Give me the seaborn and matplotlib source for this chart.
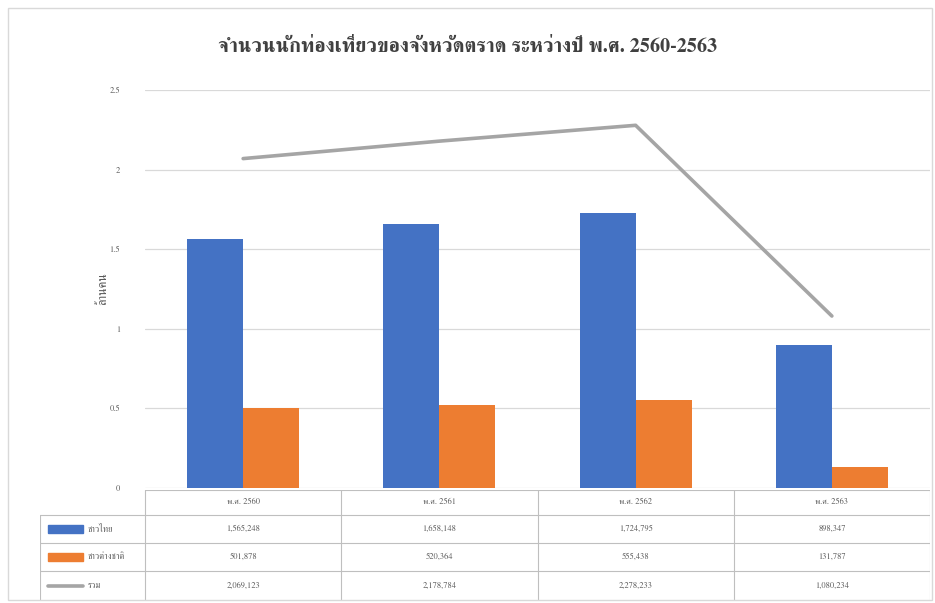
import numpy as np
import pandas as pd
import matplotlib
matplotlib.use("Agg")
import matplotlib.pyplot as plt
import seaborn as sns
from matplotlib import font_manager as fm
from matplotlib.ft2font import FT2Font
from matplotlib.patches import Rectangle

# ---------------- data ----------------
years = ["พ.ศ. 2560", "พ.ศ. 2561", "พ.ศ. 2562", "พ.ศ. 2563"]
thai = [1565248, 1658148, 1724795, 898347]
foreign = [501878, 520364, 555438, 131787]
total = [2069123, 2178784, 2278233, 1080234]
series_names = ["ชาวไทย", "ชาวต่างชาติ", "รวม"]
y_ticks = [0, 0.5, 1, 1.5, 2, 2.5]
title = "จำนวนนักท่องเที่ยวของจังหวัดตราด ระหว่างปี พ.ศ. 2560-2563"
y_label = "ล้านคน"

BLUE = "#4472C4"
ORANGE = "#ED7D31"
GRAY = "#A5A5A5"
TXT = "#595959"

sns.set_theme(style="white")

# find a font covering Thai
thai_family = None
for f in fm.fontManager.ttflist:
    try:
        ft = FT2Font(f.fname)
        if ft.get_char_index(0x0E01) and ft.get_char_index(0x0E33):
            thai_family = f.name
            if "serif" in f.name.lower() and "sans" not in f.name.lower():
                break
    except Exception:
        pass
fams = ([thai_family] if thai_family else []) + ["DejaVu Sans"]
plt.rcParams["font.family"] = fams

W, H = 935, 603
fig = plt.figure(figsize=(W / 100, H / 100), dpi=100)

def fx(px):
    return px / W

def fy(py):
    return 1 - py / H

# main axes
L, R, T, B = 145, 930, 90, 488
ax = fig.add_axes([fx(L), fy(B), fx(R - L), fy(T) - fy(B)])

df = pd.DataFrame({
    "year": years * 2,
    "group": [series_names[0]] * 4 + [series_names[1]] * 4,
    "value": [v / 1e6 for v in thai] + [v / 1e6 for v in foreign],
})
sns.barplot(data=df, x="year", y="value", hue="group", order=years,
            hue_order=series_names[:2], palette=[BLUE, ORANGE],
            width=0.57, gap=0, ax=ax, legend=False, saturation=1,
            linewidth=0, edgecolor="none")
sns.lineplot(x=np.arange(len(years)), y=[v / 1e6 for v in total], ax=ax,
             color=GRAY, linewidth=2.6, sort=False)

ax.set_xlim(-0.5, 3.5)
ax.set_ylim(0, 2.5)
ax.set_yticks(y_ticks)
ax.set_yticklabels([f"{t:g}" for t in y_ticks], fontsize=6, color=TXT)
ax.set_xticks([])
ax.set_xlabel("")
ax.set_ylabel(y_label, fontsize=9, color=TXT, labelpad=0)
ax.yaxis.grid(True, color="#D9D9D9", linewidth=0.9)
ax.set_axisbelow(True)
for s in ax.spines.values():
    s.set_visible(False)
ax.tick_params(axis="y", length=0, pad=18)

fig.text(0.5, fy(47), title, ha="center", va="center", fontsize=14.5,
         fontweight="bold", color="#404040")

# data table
tL, tR, tT, tB = 40, 930, 490, 600
tax = fig.add_axes([fx(tL), fy(tB), fx(tR - tL), fy(tT) - fy(tB)])
cat_px = (R - L) / 4.0
x0 = -0.5 - (L - tL) / cat_px
tax.set_xlim(x0, 3.5)
rows_px = [490, 515, 543, 571, 600]
tax.set_ylim(tB, tT)
tax.axis("off")
lc = "#BFBFBF"
tax.plot([-0.5, 3.5], [rows_px[0]] * 2, color=lc, lw=0.8)
for yy in rows_px[1:4]:
    tax.plot([x0, 3.5], [yy, yy], color=lc, lw=0.8)
for xx in [-0.5, 0.5, 1.5, 2.5, 3.5]:
    tax.plot([xx, xx], [rows_px[0], tB], color=lc, lw=0.8)
tax.plot([x0, x0], [rows_px[1], tB], color=lc, lw=0.8)

for i, yr in enumerate(years):
    tax.text(i, (rows_px[0] + rows_px[1]) / 2, yr, ha="center", va="center",
             fontsize=6, color=TXT)
for r, vals in enumerate([thai, foreign, total]):
    yc = (rows_px[r + 1] + rows_px[r + 2]) / 2
    for i, v in enumerate(vals):
        tax.text(i, yc, f"{v:,}", ha="center", va="center", fontsize=6, color=TXT)

# legend keys in row labels
key_x0 = x0 + 8 / cat_px
key_w = 35 / cat_px
for r, (name, col) in enumerate(zip(series_names, [BLUE, ORANGE, GRAY])):
    yc = (rows_px[r + 1] + rows_px[r + 2]) / 2
    if r < 2:
        tax.add_patch(Rectangle((key_x0, yc - 4), key_w, 8, color=col))
    else:
        tax.plot([key_x0, key_x0 + key_w], [yc, yc], color=col, lw=2.6)
    tax.text(key_x0 + key_w + 5 / cat_px, yc, name, ha="left", va="center",
             fontsize=6.5, color=TXT)

# outer border
fig.patches.append(Rectangle((fx(8), fy(600)), fx(924), fy(8) - fy(600),
                             transform=fig.transFigure, fill=False,
                             edgecolor="#D9D9D9", lw=1))

fig.savefig("out.png", dpi=100)
